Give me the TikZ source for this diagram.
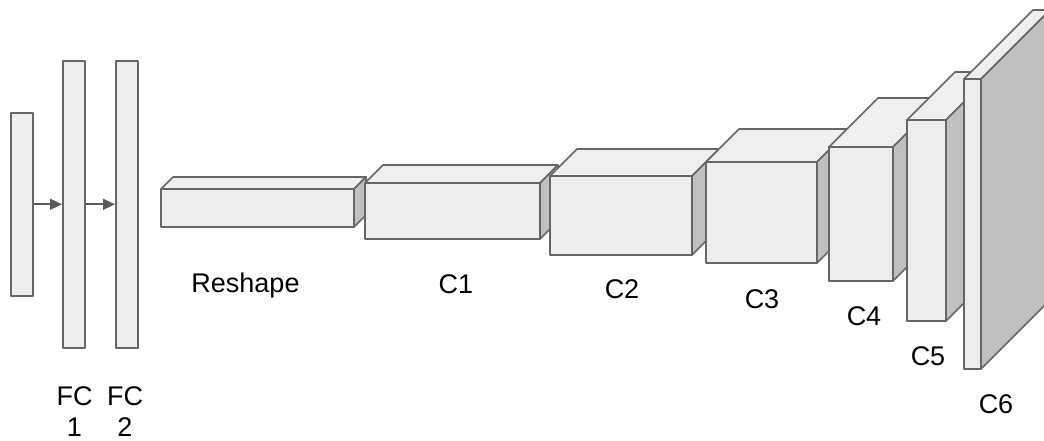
\documentclass[tikz,border=0pt]{standalone}
\usepackage{fontspec}
\setmainfont{Liberation Sans}
\usetikzlibrary{arrows.meta}
\definecolor{edge}{HTML}{666666}
\definecolor{facefront}{HTML}{EDEDED}
\definecolor{facetop}{HTML}{EFEFEF}
\definecolor{faceside}{HTML}{C0C0C0}
\definecolor{arrowgray}{HTML}{5A5A5A}
\tikzset{
  layer/.style={draw=edge, line width=1.6pt, line join=round},
  front/.style={layer, fill=facefront},
  top/.style={layer, fill=facetop},
  side/.style={layer, fill=faceside},
  fcbar/.style={front, rectangle, inner sep=0pt, anchor=north west},
  flow/.style={draw=arrowgray, line width=1.8pt, -{Triangle[length=12pt,width=11pt]}},
  label/.style={font=\fontsize{27}{31}\selectfont, anchor=base, inner sep=0pt, align=center},
}
% cuboid: x, y of front top-left corner, width, height, depth
\newcommand\cuboid[5]{%
  \path[top]  (#1,#2) -- ++(#5,-#5) -- ++(#3,0) -- ++(-#5,#5) -- cycle;
  \path[side] (#1+#3,#2) -- ++(#5,-#5) -- ++(0,#4) -- ++(-#5,#5) -- cycle;
  \path[front] (#1,#2) rectangle ++(#3,#4);
}
\begin{document}
\begin{tikzpicture}[x=1pt, y=-1pt]
  \useasboundingbox (0,0) rectangle (1044,441);
  \clip (0,0) rectangle (1044,441);

  % input vector and fully connected layers
  \node[fcbar, minimum width=22pt, minimum height=183pt] (in)  at (10,112) {};
  \node[fcbar, minimum width=22pt, minimum height=287pt] (fc1) at (62,60) {};
  \node[fcbar, minimum width=22pt, minimum height=287pt] (fc2) at (115,60) {};
  \draw[flow] (in.east) -- (fc1.west);
  \draw[flow] (fc1.east) -- (fc2.west);

  % convolutional stack
  \cuboid{161}{189}{193}{38}{12}
  \cuboid{365}{183}{175}{56}{18}
  \cuboid{550}{176}{142}{79}{27}
  \cuboid{706}{162}{111}{101}{33}
  \cuboid{829}{147}{64}{134}{49}
  \cuboid{907}{120}{39}{201}{48}
  \cuboid{964}{79}{17}{290}{69}

  % labels (base anchor sits on the last line of a two-line label)
  \node[label] (lfc1) at (74.5,436) {FC\\1};
  \node[label] (lfc2) at (125,436) {FC\\2};
  \node[label] (lres) at (245.5,292) {Reshape};
  \node[label] (lc1) at (456,293) {C1};
  \node[label] (lc2) at (622,298) {C2};
  \node[label] (lc3) at (762,308) {C3};
  \node[label] (lc4) at (864,325) {C4};
  \node[label] (lc5) at (928,365) {C5};
  \node[label] (lc6) at (996,413) {C6};
\end{tikzpicture}
\end{document}
